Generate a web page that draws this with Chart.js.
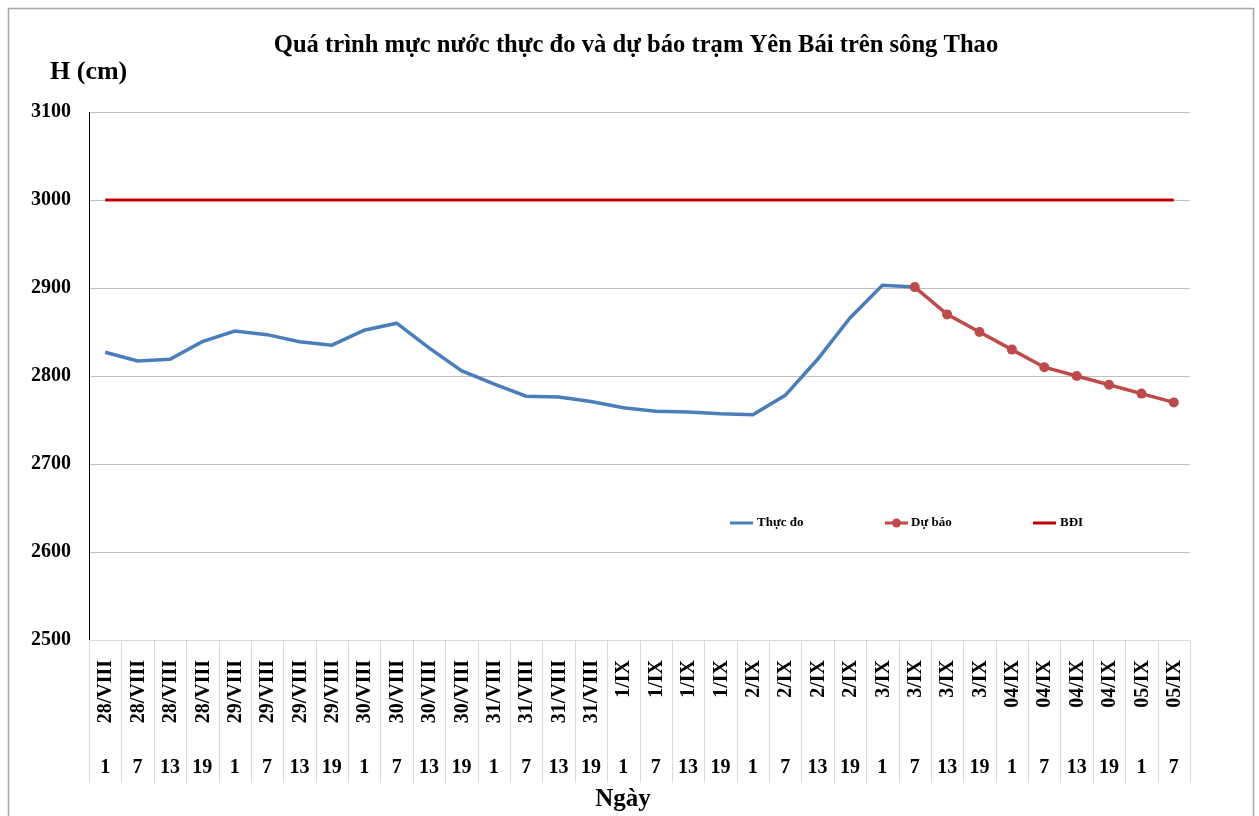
<!DOCTYPE html>
<html><head><meta charset="utf-8">
<script src="https://cdn.jsdelivr.net/npm/chart.js@4/dist/chart.umd.min.js"></script>
<style>html,body{margin:0;padding:0;background:#fff;}#wrap{width:1259px;height:816px;position:relative;}</style>
</head><body><div id="wrap"><canvas id="c" width="1259" height="816"></canvas></div>
<script>
const dateLabels = ['28/VIII','28/VIII','28/VIII','28/VIII','29/VIII','29/VIII','29/VIII','29/VIII',
  '30/VIII','30/VIII','30/VIII','30/VIII','31/VIII','31/VIII','31/VIII','31/VIII',
  '1/IX','1/IX','1/IX','1/IX','2/IX','2/IX','2/IX','2/IX','3/IX','3/IX','3/IX','3/IX',
  '04/IX','04/IX','04/IX','04/IX','05/IX','05/IX'];
const hourLabels = ['1','7','13','19','1','7','13','19','1','7','13','19','1','7','13','19',
  '1','7','13','19','1','7','13','19','1','7','13','19','1','7','13','19','1','7'];
const observed = [2827,2817,2819,2839,2851,2847,2839,2835,2852,2860,2832,2806,2791,2777,2776,2771,
  2764,2760,2759,2757,2756,2778,2819,2866,2903,2901,
  null,null,null,null,null,null,null,null];
const forecast = [null,null,null,null,null,null,null,null,null,null,null,null,null,null,null,null,
  null,null,null,null,null,null,null,null,null,2901,2870,2850,2830,2810,2800,2790,2780,2770];
const bdi = [3000,3000,3000,3000,3000,3000,3000,3000,3000,3000,3000,3000,3000,3000,3000,3000,
  3000,3000,3000,3000,3000,3000,3000,3000,3000,3000,3000,3000,3000,3000,3000,3000,3000,3000];
const yTicks = [2500,2600,2700,2800,2900,3000,3100];
const titleText = 'Quá trình mực nước thực đo và dự báo trạm Yên Bái trên sông Thao';
const yTitle = 'H (cm)';
const xTitle = 'Ngày';

const SERIF = "'Liberation Serif','Times New Roman',serif";
const catLabels = dateLabels.map((d,i)=>d+' '+hourLabels[i]);

const decor = {
  id:'decor',
  afterDraw(chart){
    const ctx = chart.ctx, xs = chart.scales.x, ca = chart.chartArea;
    ctx.save();
    // outer frame
    ctx.strokeStyle = '#A6A6A6'; ctx.lineWidth = 1.5;
    ctx.strokeRect(8.5, 8.5, 1245, 830);
    // titles
    ctx.fillStyle = '#000';
    ctx.textAlign = 'center'; ctx.textBaseline = 'middle';
    ctx.font = 'bold 24.6px ' + SERIF;
    ctx.fillText(titleText, 636, 46);
    ctx.textAlign = 'left';
    ctx.font = 'bold 26px ' + SERIF;
    ctx.fillText(yTitle, 50, 72);
    ctx.textAlign = 'center';
    ctx.font = 'bold 25px ' + SERIF;
    ctx.fillText(xTitle, 623, 800);
    // category table
    const n = dateLabels.length;
    const half = (xs.getPixelForValue(1) - xs.getPixelForValue(0)) / 2;
    ctx.strokeStyle = '#D9D9D9'; ctx.lineWidth = 1;
    for (let i = 0; i <= n; i++) {
      const bx = Math.round(xs.getPixelForValue(Math.min(i, n-1)) + (i < n ? -half : half)) + 0.5;
      ctx.beginPath(); ctx.moveTo(bx, ca.bottom); ctx.lineTo(bx, 783); ctx.stroke();
    }
    ctx.font = 'bold 20px ' + SERIF;
    for (let i = 0; i < n; i++) {
      const cx = xs.getPixelForValue(i);
      ctx.save();
      ctx.translate(cx + 1, 660);
      ctx.rotate(-Math.PI/2);
      ctx.textAlign = 'right'; ctx.textBaseline = 'middle';
      ctx.fillText(dateLabels[i], 0, 0);
      ctx.restore();
      ctx.textAlign = 'center'; ctx.textBaseline = 'middle';
      ctx.fillText(hourLabels[i], cx, 768);
    }
    // legend
    const legendPos = [[730, 757], [885, 911], [1033, 1060]];
    ctx.font = 'bold 13px ' + SERIF;
    chart.data.datasets.forEach((ds, k) => {
      const [lx, tx] = legendPos[k];
      const ly = 523;
      ctx.strokeStyle = ds.borderColor; ctx.lineWidth = 3;
      ctx.beginPath(); ctx.moveTo(lx, ly); ctx.lineTo(lx + 23, ly); ctx.stroke();
      if (ds.pointRadius > 0) {
        ctx.fillStyle = ds.pointBackgroundColor;
        ctx.beginPath(); ctx.arc(lx + 11.5, ly, 4.5, 0, Math.PI*2); ctx.fill();
      }
      ctx.fillStyle = '#000'; ctx.textAlign = 'left'; ctx.textBaseline = 'middle';
      ctx.fillText(ds.label, tx, ly);
    });
    ctx.restore();
  }
};

new Chart(document.getElementById('c'), {
  type: 'line',
  data: {
    labels: catLabels,
    datasets: [
      {label:'Thực đo', data: observed, borderColor:'#4A7EBB', backgroundColor:'#4A7EBB',
        borderWidth:3.5, pointRadius:0, pointBackgroundColor:'#4A7EBB', tension:0, spanGaps:false, order:2},
      {label:'Dự báo', data: forecast, borderColor:'#BE4B48', backgroundColor:'#BE4B48',
        borderWidth:3.5, pointRadius:5, pointBackgroundColor:'#BE4B48', pointBorderWidth:0, tension:0, order:1},
      {label:'BĐI', data: bdi, borderColor:'#C00000', backgroundColor:'#C00000',
        borderWidth:3, pointRadius:0, pointBackgroundColor:'#C00000', tension:0, order:3}
    ]
  },
  options: {
    responsive:false, animation:false,
    layout:{padding:{top:112, right:69, bottom:176, left:0}},
    plugins:{legend:{display:false}, title:{display:false}, tooltip:{enabled:false}},
    scales:{
      x:{type:'category', offset:true, ticks:{display:false}, grid:{display:false, drawTicks:false},
        border:{display:true, color:'#D9D9D9', width:1}},
      y:{min:2500, max:3100,
        afterBuildTicks(s){ s.ticks = yTicks.map(v=>({value:v})); },
        afterFit(s){ s.width = 89; },
        ticks:{font:{family:SERIF, size:20, weight:'bold'}, color:'#000', padding:18,
          callback:(v)=>String(v)},
        grid:{color:'#BFBFBF', lineWidth:1, drawTicks:false},
        border:{display:true, color:'#000', width:1}}
    }
  },
  plugins:[decor]
});
</script></body></html>
